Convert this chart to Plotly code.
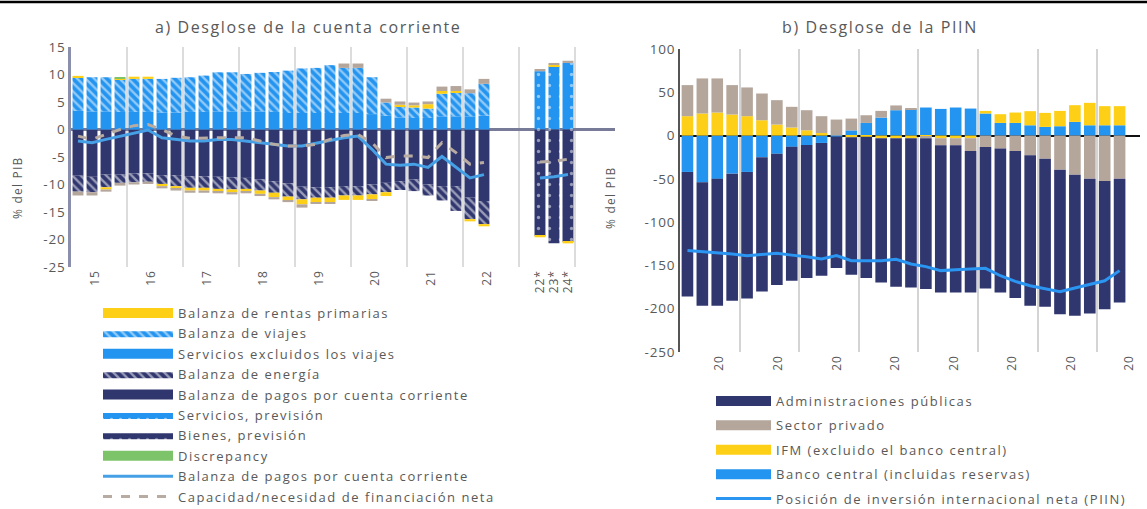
import plotly.graph_objects as go

W, H = 1147, 509

# ---------------- Panel a) data ----------------
a_quarters = ["2015T1","2015T2","2015T3","2015T4","2016T1","2016T2","2016T3","2016T4",
              "2017T1","2017T2","2017T3","2017T4","2018T1","2018T2","2018T3","2018T4",
              "2019T1","2019T2","2019T3","2019T4","2020T1","2020T2","2020T3","2020T4",
              "2021T1","2021T2","2021T3","2021T4","2022T1","2022T2"]
a_year_labels = ["15", "16", "17", "18", "19", "20", "21", "22"]
a_proj_labels = ["22*", "23*", "24*"]
a_yticks = [15, 10, 5, 0, -5, -10, -15, -20, -25]

servicios_excl = [3.4,3.3,3.3,3.2,3.2,3.2,3.1,3.1,3.2,3.2,3.3,3.3,3.3,3.3,3.2,3.0,3.0,3.0,3.0,3.0,
                  3.0,2.8,2.5,2.2,2.1,2.1,2.4,2.4,2.4,2.5]
viajes = [6.0,6.2,6.2,5.9,6.0,6.0,6.1,6.3,6.3,6.6,7.1,7.1,6.8,7.0,7.25,7.7,8.1,8.2,8.7,8.2,
          8.2,6.7,2.4,2.0,1.9,1.7,4.1,4.3,4.2,5.8]
rentas_primarias = [0.35,0.0,-0.4,0.2,0.4,0.4,-0.4,-0.5,-0.5,-0.5,-0.5,-0.5,-0.5,-0.6,-0.8,-0.7,
                    -0.9,-0.9,-0.8,-0.8,-0.8,-0.9,-0.7,0.3,0.4,0.8,0.5,0.3,-0.4,-0.4]
bienes_no_energ = [-8.4,-8.6,-8.2,-8.2,-8.0,-8.0,-8.3,-8.3,-8.5,-8.5,-8.6,-8.7,-8.8,-9.1,-9.4,-9.8,
                   -10.4,-10.5,-10.5,-10.3,-10.3,-10.0,-9.7,-9.4,-9.1,-10.0,-10.3,-10.3,-12.4,-13.0]
energia = [-2.9,-2.8,-2.3,-1.5,-1.6,-1.5,-1.6,-2.0,-2.1,-2.1,-2.2,-2.2,-2.0,-2.0,-2.1,-2.4,
           -2.3,-1.9,-1.9,-1.7,-1.7,-1.8,-1.7,-1.6,-2.1,-2.0,-2.6,-4.5,-3.9,-4.2]
discrepancia = [0.0,0.0,0.0,0.15,0.0,0.0,0.0,0.0,0.0,0.0,0.0,0.0,0.0,0.0,0.0,0.0,
                0.0,0.0,0.0,0.0,0.0,0.0,0.0,0.0,0.0,0.0,0.0,0.0,0.0,0.0]
otros = [-0.7,-0.6,-0.4,-0.5,-0.4,-0.4,-0.4,-0.3,-0.4,-0.4,-0.3,-0.4,-0.3,-0.4,-0.4,-0.3,
         -0.6,-0.2,-0.3,0.8,0.8,-0.2,0.7,0.6,0.5,0.5,0.8,0.9,0.7,0.9]
bdp_cc = [-2.1,-2.4,-1.8,-1.2,-0.6,-0.1,-1.5,-1.8,-2.1,-2.1,-1.8,-1.8,-2.1,-2.4,-2.7,-3.0,
          -3.0,-2.5,-2.1,-1.5,-1.2,-3.6,-6.3,-6.5,-6.3,-6.9,-4.9,-6.9,-8.8,-8.2]
cap_nec = [-1.2,-1.8,-0.9,0.0,0.7,0.9,0.0,-1.2,-1.6,-1.5,-1.5,-1.5,-1.5,-2.1,-2.7,-3.0,
           -3.0,-2.7,-1.8,-1.1,-0.9,-2.4,-5.1,-4.8,-4.8,-5.1,-2.4,-4.2,-6.3,-6.0]

serv_prev = [10.6, 11.5, 12.1]
bienes_prev = [-19.3, -20.7, -20.4]
rentas_prev = [-0.3, 0.3, -0.3]
otros_prev = [0.4, 0.3, 0.4]
bdp_prev = [-8.8, -8.6, -8.2]
cap_prev = [-5.9, -5.8, -5.4]

# ---------------- Panel b) data ----------------
b_quarters = a_quarters
b_tick_labels = ["20", "20", "20", "20", "20", "20", "20", "20"]
b_yticks = [100, 50, 0, -50, -100, -150, -200, -250]
admin_pub = [-144,-142.6,-146.6,-146.8,-146.1,-155,-151.7,-154.7,-153.6,-153.4,-152,-158.7,
             -163.1,-166.6,-171.6,-172.4,-174.3,-170,-170,-163.4,-163.4,-166.2,-169.9,-173.8,
             -171.1,-166.9,-163,-155.8,-147.9,-143]
sector_priv = [35.9,40.5,39.4,34,33.2,30.9,28.2,23.9,23.2,19.4,18.5,13.6,8.9,7.7,5.5,0.8,
               -2,-8.2,-8.2,-14.8,-13.2,-15,-17.8,-22.8,-26.7,-39.4,-45.2,-49.8,-52.6,-49.8]
ifm = [22.4,25.5,26.6,24.3,22.4,17.7,12.7,9.3,6.1,3.0,0,-2,-1.5,-3,-3,-3,
       -1,-3,-3,-3,3,10.1,12,16.3,16.2,17.7,19.3,25.9,22.1,22.1]
banco_central = [-42,-54,-50,-44,-42,-25,-21,-13,-11,-8.5,-1,6,14.6,20.8,29.3,30.5,
                 32.4,30.8,32.4,31.2,25.5,14.6,14.6,11.9,10,10.8,15.8,11.9,11.9,11.9]
piin = [-132.9,-134.1,-134.9,-136.8,-138.7,-137.5,-136,-138.1,-139.9,-142.6,-138.7,-144.5,
        -144.5,-144.5,-143,-148.3,-151.4,-156,-154.9,-154.1,-153.4,-161.9,-168.5,-173.5,
        -177.3,-180.4,-176.1,-172.3,-167.7,-156]

# ---------------- helpers ----------------
def qpos(label):
    y, q = label.split("T")
    return (int(y) - 2015) * 4 + int(q) - 1

def sp(text, ls=1.5):
    return f'<span style="letter-spacing:{ls}px">{text}</span>'

xa = [qpos(q) for q in a_quarters]
PROJ_START = qpos("2023T2")
xa_p = [PROJ_START + i for i in range(len(a_proj_labels))]
xb = [qpos(q) for q in b_quarters]

NAVY = "#30366e"
BLUE = "#2394ef"
YELLOW = "#fdd017"
TAUPE = "#b5a69c"
GREEN = "#7cc36a"
LBLUE_A = "#46a0e6"
LBLUE_B = "#2b96f2"
GREYDASH = "#b7aba2"
TXT = "#595959"
FONT = "Open Sans"
LS = 1.55

fig = go.Figure()

hatch = lambda bg: dict(shape="\\", fgcolor="white", bgcolor=bg, size=6, solidity=0.4)
dots = lambda bg: dict(shape=".", fgcolor="white", bgcolor=bg, size=11, solidity=0.07)
dots_leg = lambda bg: dict(shape=".", fgcolor="white", bgcolor=bg, size=9, solidity=0.12)


def legend_proxy(name, color, rank, legend, pattern=None):
    """Legend-only entry drawn as a wide swatch, like the original chart."""
    ax = dict(xaxis="x", yaxis="y") if legend == "legend" else dict(xaxis="x2", yaxis="y2")
    if pattern is None:
        fig.add_trace(go.Scatter(x=[None], y=[None], mode="lines", name=sp(name, LS),
                                 line=dict(color=color, width=12), legend=legend,
                                 legendrank=rank, legendgroup=name, **ax))
    else:
        fig.add_trace(go.Scatter(x=[None], y=[None], mode="lines", name=sp(name, LS),
                                 fill="toself", fillcolor=color, fillpattern=pattern,
                                 line=dict(color=color, width=0), legend=legend,
                                 legendrank=rank, legendgroup=name, **ax))


def bar_a(x, y, name, color, pattern=None):
    m = dict(color=color, line=dict(width=0))
    if pattern:
        m["pattern"] = pattern
    fig.add_trace(go.Bar(x=x, y=y, name=name, marker=m, xaxis="x", yaxis="y",
                         showlegend=False))

bar_a(xa, bienes_no_energ, "Balanza de pagos por cuenta corriente", NAVY)
bar_a(xa, servicios_excl, "Servicios excluidos los viajes", BLUE)
bar_a(xa, energia, "Balanza de energía", NAVY, hatch(NAVY))
bar_a(xa, viajes, "Balanza de viajes", BLUE, hatch(BLUE))
bar_a(xa_p, serv_prev, "Servicios, previsión", BLUE, dots(BLUE))
bar_a(xa_p, bienes_prev, "Bienes, previsión", NAVY, dots(NAVY))
bar_a(xa, rentas_primarias, "Balanza de rentas primarias", YELLOW)
bar_a(xa_p, rentas_prev, "Balanza de rentas primarias (prev.)", YELLOW)
bar_a(xa, discrepancia, "Discrepancy", GREEN)
bar_a(xa, otros, "Otros", TAUPE)
bar_a(xa_p, otros_prev, "Otros (prev.)", TAUPE)

fig.add_trace(go.Scatter(x=xa, y=bdp_cc, mode="lines", name=sp("Balanza de pagos por cuenta corriente", LS),
                         line=dict(color=LBLUE_A, width=3), xaxis="x", yaxis="y",
                         legend="legend", legendrank=9, legendgroup="l1"))
fig.add_trace(go.Scatter(x=xa_p, y=bdp_prev, mode="lines", showlegend=False,
                         line=dict(color=LBLUE_A, width=3), xaxis="x", yaxis="y"))
fig.add_trace(go.Scatter(x=xa, y=cap_nec, mode="lines", name=sp("Capacidad/necesidad de financiación neta", LS),
                         line=dict(color=GREYDASH, width=3, dash="dash"), xaxis="x", yaxis="y",
                         legend="legend", legendrank=10, legendgroup="l2"))
fig.add_trace(go.Scatter(x=xa_p, y=cap_prev, mode="lines", showlegend=False,
                         line=dict(color=GREYDASH, width=3, dash="dash"), xaxis="x", yaxis="y"))

legend_proxy("Balanza de rentas primarias", YELLOW, 1, "legend")
legend_proxy("Balanza de viajes", BLUE, 2, "legend", hatch(BLUE))
legend_proxy("Servicios excluidos los viajes", BLUE, 3, "legend")
legend_proxy("Balanza de energía", NAVY, 4, "legend", hatch(NAVY))
legend_proxy("Balanza de pagos por cuenta corriente", NAVY, 5, "legend")
legend_proxy("Servicios, previsión", BLUE, 6, "legend", dots_leg(BLUE))
legend_proxy("Bienes, previsión", NAVY, 7, "legend", dots_leg(NAVY))
legend_proxy("Discrepancy", GREEN, 8, "legend")

# ---------------- Panel b traces ----------------
def bar_b(y, name, color):
    fig.add_trace(go.Bar(x=xb, y=y, name=name, marker=dict(color=color, line=dict(width=0)),
                         xaxis="x2", yaxis="y2", showlegend=False))

bar_b(banco_central, "Banco central (incluidas reservas)", BLUE)
bar_b(ifm, "IFM (excluido el banco central)", YELLOW)
bar_b(sector_priv, "Sector privado", TAUPE)
bar_b(admin_pub, "Administraciones públicas", NAVY)
fig.add_trace(go.Scatter(x=xb, y=piin, mode="lines",
                         name=sp("Posición de inversión internacional neta (PIIN)", LS),
                         line=dict(color=LBLUE_B, width=3), xaxis="x2", yaxis="y2",
                         legend="legend2", legendrank=5, legendgroup="piin"))
legend_proxy("Administraciones públicas", NAVY, 1, "legend2")
legend_proxy("Sector privado", TAUPE, 2, "legend2")
legend_proxy("IFM (excluido el banco central)", YELLOW, 3, "legend2")
legend_proxy("Banco central (incluidas reservas)", BLUE, 4, "legend2")

# ---------------- layout ----------------
a_year_pos = [qpos(f"20{y}T2") + 0.2 for y in a_year_labels]
b_tick_pos = [2.15 + 3.93 * i for i in range(len(b_tick_labels))]
tt = lambda vals: [sp(str(v), 0.8) for v in vals]

fig.update_layout(
    width=W, height=H,
    margin=dict(l=0, r=0, t=0, b=0, autoexpand=False),
    paper_bgcolor="white", plot_bgcolor="white",
    barmode="relative", bargap=0.22,
    font=dict(family=FONT, color=TXT, size=13),
    showlegend=True,
    xaxis=dict(domain=[71 / W, 615 / W], range=[-0.5, 38.36],
               tickmode="array", tickvals=a_year_pos + xa_p, ticktext=tt(a_year_labels + a_proj_labels),
               tickangle=-90, tickfont=dict(size=12, color=TXT), showgrid=False, zeroline=False,
               showline=False, ticks="", anchor="y", automargin=False,
               minor=dict(tickmode="linear", tick0=3.5, dtick=4, showgrid=True,
                          gridcolor="#dcdcdc", gridwidth=2, ticks="")),
    yaxis=dict(domain=[1 - 267 / H, 1 - 47 / H], range=[-25, 15],
               tickmode="array", tickvals=a_yticks, ticktext=tt(a_yticks),
               showgrid=False, zeroline=True, zerolinecolor="#777b98", zerolinewidth=2.5,
               showline=True, linecolor="#8c8fab", linewidth=2.5, ticks="",
               tickfont=dict(size=13.5, color=TXT), anchor="x", automargin=False),
    xaxis2=dict(domain=[680 / W, 1140 / W], range=[-0.5, 30.37],
                tickmode="array", tickvals=b_tick_pos, ticktext=tt(b_tick_labels),
                tickangle=-90, tickfont=dict(size=12, color=TXT), showgrid=False, zeroline=False,
                showline=False, ticks="", anchor="y2", automargin=False,
                minor=dict(tickmode="linear", tick0=3.5, dtick=4, showgrid=True,
                           gridcolor="#d4d4d4", gridwidth=2, ticks="")),
    yaxis2=dict(domain=[1 - 352 / H, 1 - 49 / H], range=[-250, 100],
                tickmode="array", tickvals=b_yticks, ticktext=tt(b_yticks),
                showgrid=False, zeroline=True, zerolinecolor="#111111", zerolinewidth=2,
                showline=True, linecolor="#555555", linewidth=2, ticks="",
                tickfont=dict(size=13.5, color=TXT), anchor="x2", automargin=False),
    legend=dict(x=98 / W, y=1 - 298 / H, xanchor="left", yanchor="top",
                traceorder="grouped", tracegroupgap=0.5, itemwidth=70,
                font=dict(size=13, color=TXT), bgcolor="rgba(0,0,0,0)"),
    legend2=dict(x=711 / W, y=1 - 386 / H, xanchor="left", yanchor="top",
                 traceorder="grouped", tracegroupgap=4.5, itemwidth=55,
                 font=dict(size=13, color=TXT), bgcolor="rgba(0,0,0,0)"),
    annotations=[
        dict(text=sp("a) Desglose de la cuenta corriente", 1.6), x=308 / W, y=1 - 27 / H,
             xref="paper", yref="paper", showarrow=False, font=dict(size=16, color=TXT),
             xanchor="center", yanchor="middle"),
        dict(text=sp("b) Desglose de la PIIN", 1.6), x=880 / W, y=1 - 27 / H,
             xref="paper", yref="paper", showarrow=False, font=dict(size=16, color=TXT),
             xanchor="center", yanchor="middle"),
        dict(text=sp("% del PIB", 1.2), x=18 / W, y=1 - 188 / H, xref="paper", yref="paper",
             showarrow=False, textangle=-90, font=dict(size=12, color=TXT),
             xanchor="center", yanchor="middle"),
        dict(text=sp("% del PIB", 1.2), x=610 / W, y=1 - 198 / H, xref="paper", yref="paper",
             showarrow=False, textangle=-90, font=dict(size=12, color=TXT),
             xanchor="center", yanchor="middle"),
    ],
    shapes=[dict(type="line", xref="paper", yref="paper", x0=0, x1=1, y0=1 - 2 / H, y1=1 - 2 / H,
                 line=dict(color="black", width=2.5))],
)

fig.write_html("out.html", config={"displayModeBar": False},
               post_script="document.body.style.margin='0px';")
